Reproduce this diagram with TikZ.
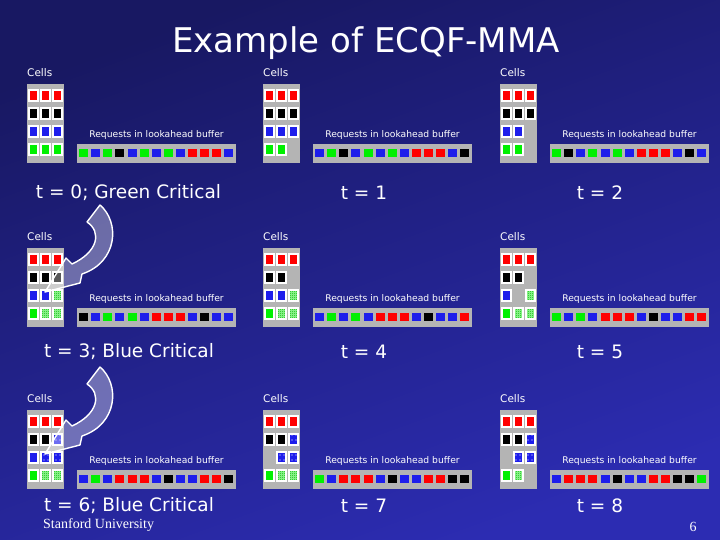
\documentclass[tikz,border=0pt]{standalone}
\usepackage{fontspec}
\setmainfont{Liberation Serif}
\newfontfamily\comicfont{DejaVu Sans}
\usetikzlibrary{patterns}

\definecolor{bgtop}{RGB}{24,24,98}
\definecolor{bgbot}{RGB}{44,44,178}
\definecolor{boxgray}{RGB}{180,180,180}
\definecolor{qR}{RGB}{255,0,0}
\definecolor{qK}{RGB}{0,0,0}
\definecolor{qB}{RGB}{30,30,235}
\definecolor{qG}{RGB}{0,240,0}

\pgfdeclarepatternformonly{sparsedots}{\pgfqpoint{-1pt}{-1pt}}{\pgfqpoint{1pt}{1pt}}{\pgfqpoint{4pt}{5pt}}%
  {\pgfpathcircle{\pgfpointorigin}{0.6pt}\pgfusepath{fill}}
\pgfdeclarepatternformonly{finecheck}{\pgfpointorigin}{\pgfqpoint{2pt}{2pt}}{\pgfqpoint{2pt}{2pt}}%
  {\pgfpathrectangle{\pgfpointorigin}{\pgfqpoint{1pt}{1pt}}%
   \pgfpathrectangle{\pgfqpoint{1pt}{1pt}}{\pgfqpoint{1pt}{1pt}}\pgfusepath{fill}}

% one time step: cells block + lookahead buffer
\newcommand\drawpanel[5]{%
  \begin{scope}[shift={(#2,#3)}]
    \node[lbl, anchor=west] (#1-cells) at (0,-11) {Cells};
    \fill[boxgray] (0,0) rectangle (36.5,79);
    \foreach \code [count=\i from 0] in {#4} {
      \pgfmathtruncatemacro\cc{mod(\i,3)}
      \pgfmathtruncatemacro\rr{\i/3}
      \node[cell, c\code] at ({6.5+12*\cc},{11.5+18*\rr}) {};
    }
    \node[req] (#1-req) at (129.5,51) {Requests in lookahead buffer};
    \fill[boxgray] (50,60) rectangle (209,79);
    \foreach \code [count=\i from 0] in {#5}
      \fill[fill=q\code] ({52.3+12.06*\i},65.3) rectangle ++(9,7.5);
  \end{scope}}

\begin{document}
\begin{tikzpicture}[
  x=1pt, y=-1pt,
  lbl/.style={font=\comicfont\fontsize{10.5}{12}\selectfont, text=white, inner sep=0pt},
  req/.style={font=\comicfont\fontsize{9.2}{11}\selectfont, text=white, inner sep=0pt},
  tlbl/.style={font=\comicfont\fontsize{18.5}{22}\selectfont, text=white, inner sep=0pt},
  cell/.style={draw=white, line width=1.8pt, minimum width=8.7pt, minimum height=11.3pt, inner sep=0pt},
  cR/.style={fill=qR}, cK/.style={fill=qK}, cB/.style={fill=qB}, cG/.style={fill=qG},
  cg/.style={preaction={fill=qG!40!white}, pattern=finecheck, pattern color=qG!75!black},
  cb/.style={preaction={fill=qB}, pattern=sparsedots, pattern color=white},
  cn/.style={draw=none},
  carrow/.style={draw=white, line width=1.4pt, fill=white, fill opacity=0.35, line join=round}
]
\useasboundingbox (0,0) rectangle (720,540);
\shade[top color=bgtop, bottom color=bgbot, shading angle=20] (0,0) rectangle (720,540);

\node[font=\comicfont\fontsize{34}{40}\selectfont, text=white] (title) at (366,43) {Example of ECQF-MMA};

% row 1
\drawpanel{p0}{27}{84}{R,R,R,K,K,K,B,B,B,G,G,G}{G,B,G,K,B,G,B,G,B,R,R,R,B}
\drawpanel{p1}{263}{84}{R,R,R,K,K,K,B,B,B,G,G,n}{B,G,K,B,G,B,G,B,R,R,R,B,K}
\drawpanel{p2}{500}{84}{R,R,R,K,K,K,B,B,n,G,G,n}{G,K,B,G,B,G,B,R,R,R,B,K,B}
% row 2
\drawpanel{p3}{27}{248}{R,R,R,K,K,K,B,B,g,G,g,g}{K,B,G,B,G,B,R,R,R,B,K,B,B}
\drawpanel{p4}{263}{248}{R,R,R,K,K,n,B,B,g,G,g,g}{B,G,B,G,B,R,R,R,B,K,B,B,R}
\drawpanel{p5}{500}{248}{R,R,R,K,K,n,B,n,g,G,g,g}{G,B,G,B,R,R,R,B,K,B,B,R,R}
% row 3
\drawpanel{p6}{27}{410}{R,R,R,K,K,b,B,b,b,G,g,g}{B,G,B,R,R,R,B,K,B,B,R,R,K}
\drawpanel{p7}{263}{410}{R,R,R,K,K,b,n,b,b,G,g,g}{G,B,R,R,R,B,K,B,B,R,R,K,K}
\drawpanel{p8}{500}{410}{R,R,R,K,K,b,n,b,b,G,g,n}{B,R,R,R,B,K,B,B,R,R,K,K,G}

\node[tlbl] (t0) at (128.5,193) {t = 0; Green Critical};
\node[tlbl] (t1) at (364,193) {t = 1};
\node[tlbl] (t2) at (600,193) {t = 2};
\node[tlbl] (t3) at (129,352) {t = 3; Blue Critical};
\node[tlbl] (t4) at (364,352) {t = 4};
\node[tlbl] (t5) at (600,352) {t = 5};
\node[tlbl] (t6) at (129,506) {t = 6; Blue Critical};
\node[tlbl] (t7) at (364,506) {t = 7};
\node[tlbl] (t8) at (600,506) {t = 8};

% curved block arrows
\path[carrow] (100,205) .. controls (120,222) and (118,262) .. (82,274) -- (80,283)
  -- (45,292) -- (66,258) -- (72,264) .. controls (98,252) and (102,232) .. (87,222) -- cycle;
\begin{scope}[shift={(0,162)}]
\path[carrow] (100,205) .. controls (120,222) and (118,262) .. (82,274) -- (80,283)
  -- (45,292) -- (66,258) -- (72,264) .. controls (98,252) and (102,232) .. (87,222) -- cycle;
\end{scope}

\node[font=\fontsize{14}{16}\selectfont, text=white, anchor=west, inner sep=0pt] (univ) at (43,525) {Stanford University};
\node[font=\fontsize{14}{16}\selectfont, text=white, inner sep=0pt] (page) at (693,527) {6};
\end{tikzpicture}
\end{document}
